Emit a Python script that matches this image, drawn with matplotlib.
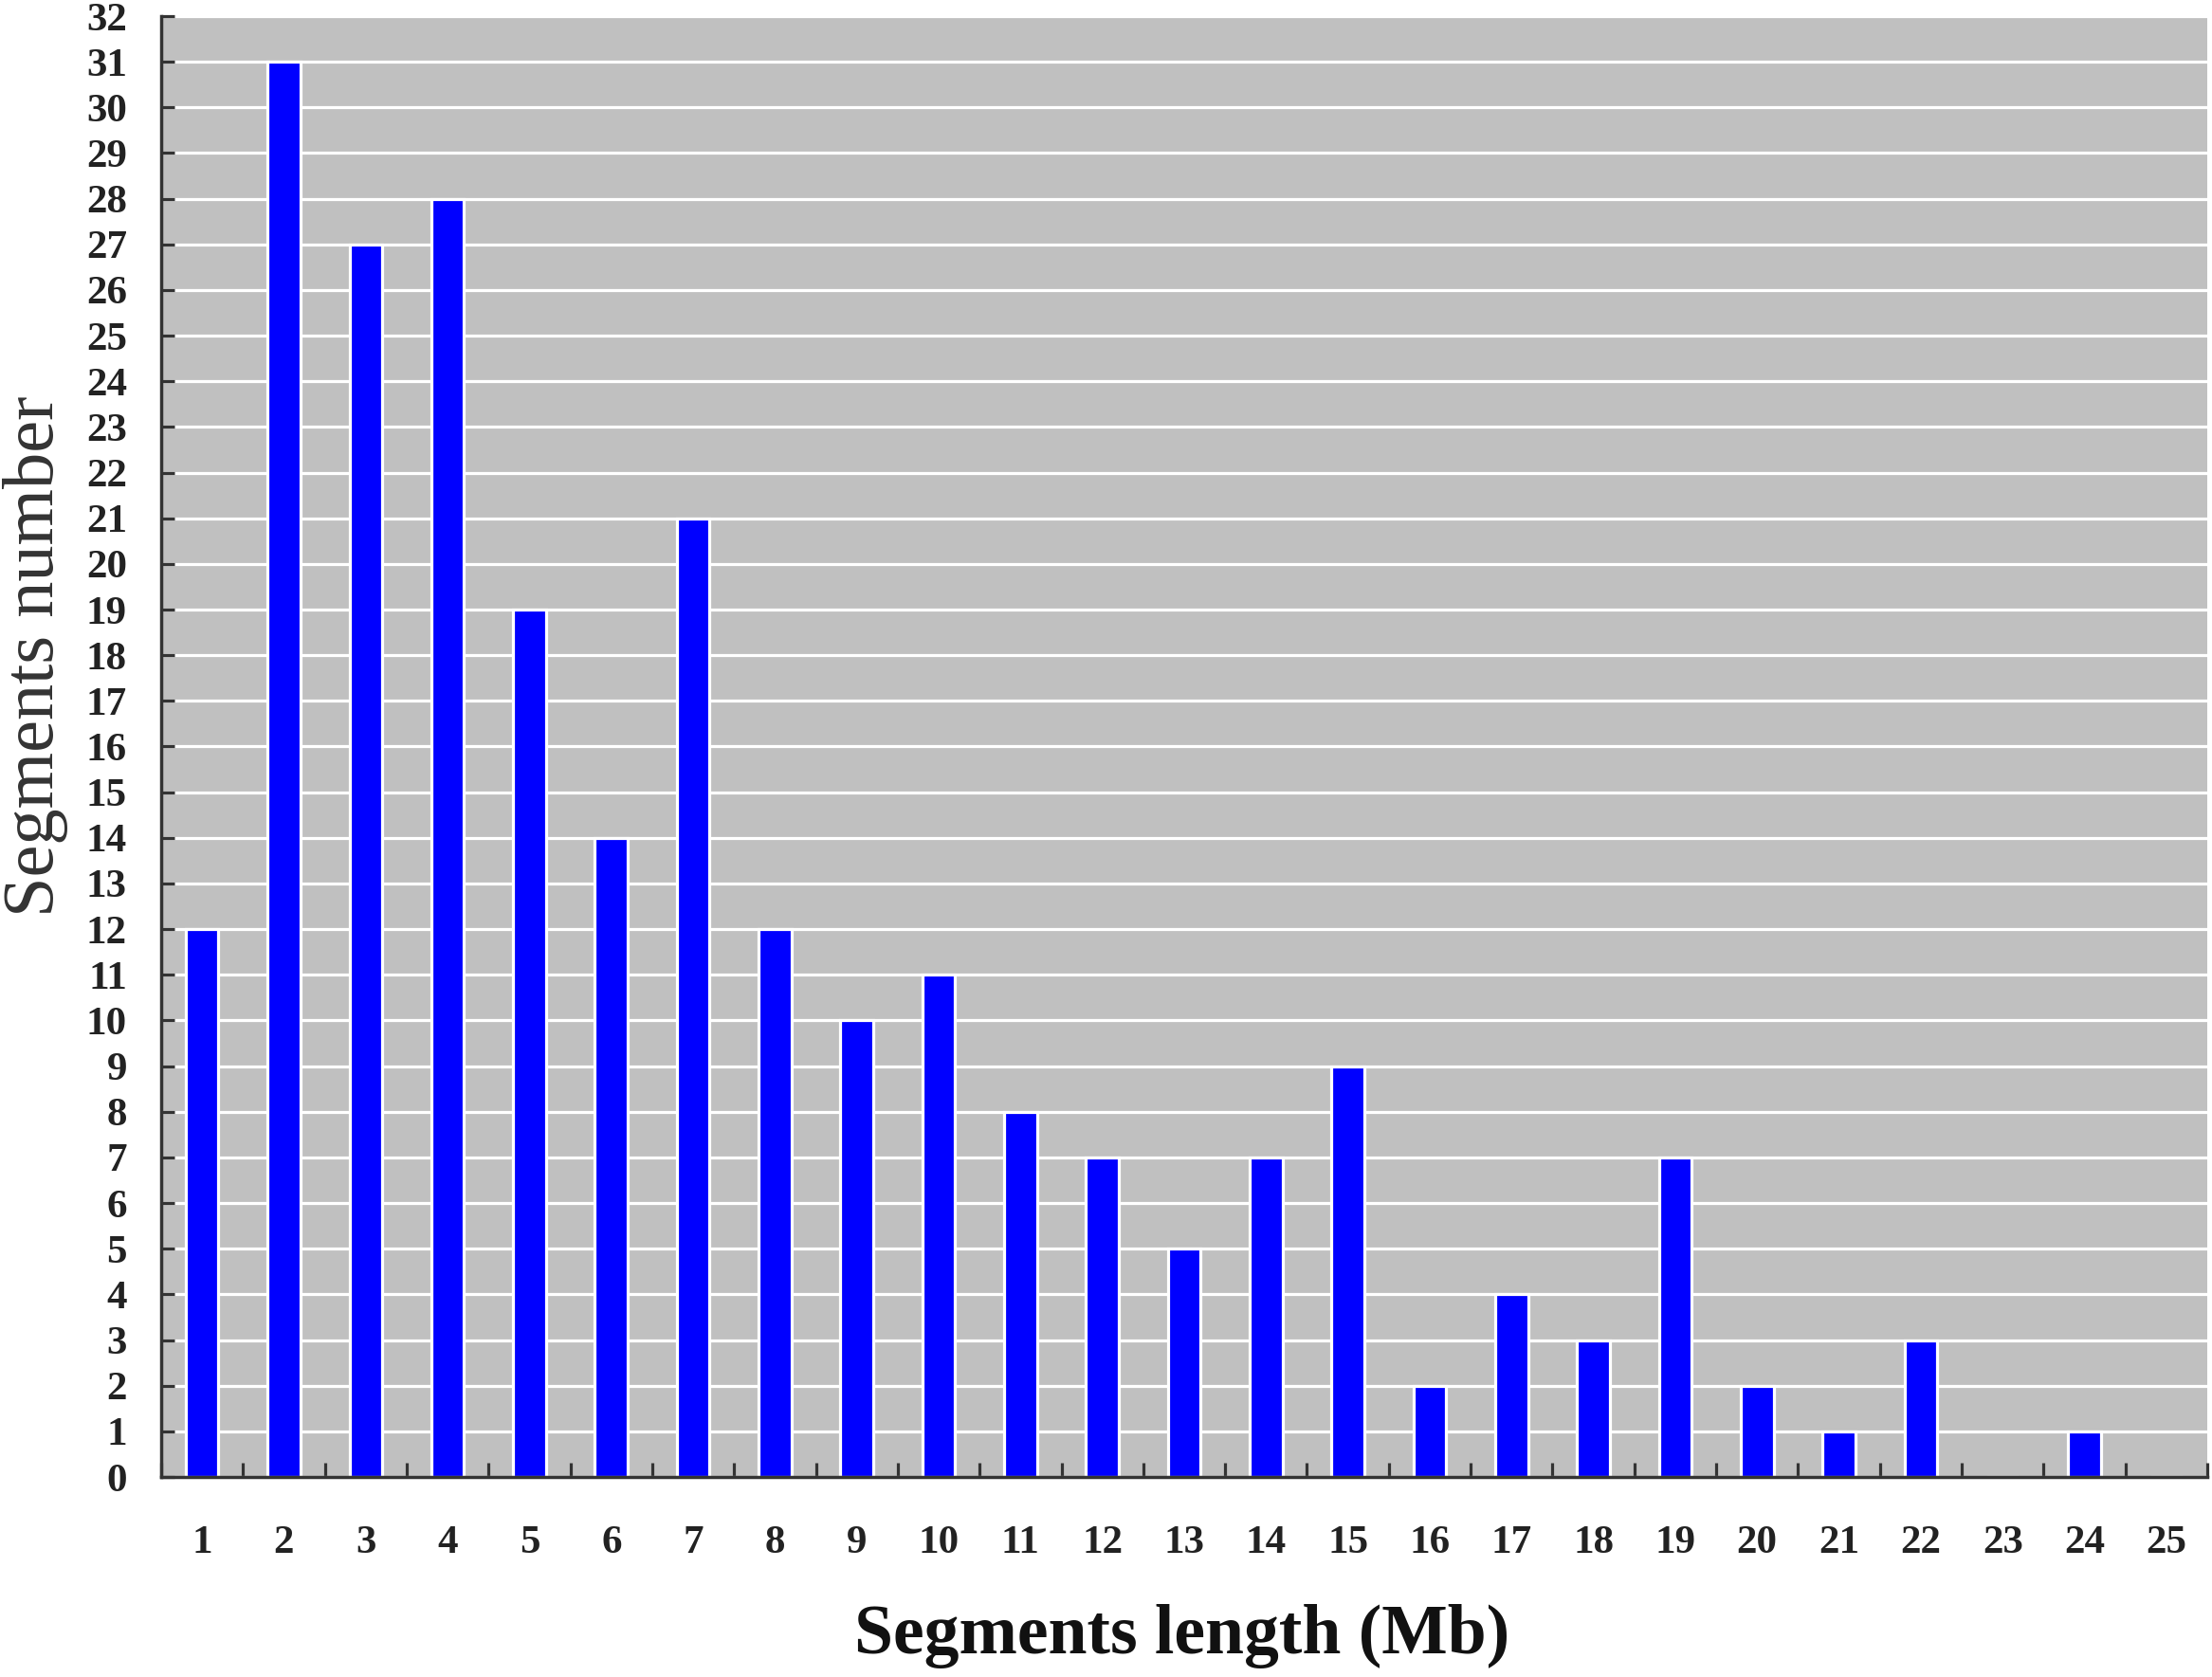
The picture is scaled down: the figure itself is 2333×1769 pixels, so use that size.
import matplotlib
matplotlib.use("Agg")
import matplotlib.pyplot as plt
import numpy as np
from matplotlib.ticker import FixedLocator

categories = [str(i) for i in range(1, 26)]
counts = [12, 31, 27, 28, 19, 14, 21, 12, 10, 11, 8, 7, 5, 7, 9, 2, 4, 3, 7, 2, 1, 3, 0, 1, 0]
y_ticks = list(range(0, 33))

W, H = 2333, 1769
fig = plt.figure(figsize=(W / 100, H / 100), dpi=100)
ax = fig.add_axes([170 / W, 1 - 1558 / H, (2328 - 170) / W, (1558 - 17) / H])

ax.set_facecolor("#C0C0C0")
x = np.arange(len(categories))
ax.set_axisbelow(True)
ax.yaxis.grid(True, color="white", linewidth=2.3)
ax.bar(x, counts, width=0.4, color="#0000FF", edgecolor="white", linewidth=2.3, zorder=3)

ax.set_xlim(-0.5, len(categories) - 0.5)
ax.set_ylim(0, 32)

ax.set_xticks(x)
ax.set_xticklabels(categories)
ax.xaxis.set_minor_locator(FixedLocator(np.arange(-0.5, len(categories), 1.0)))
ax.tick_params(axis="x", which="major", length=0, pad=37)
ax.tick_params(axis="x", which="minor", direction="in", length=11, width=2.3, color="#333333")
ax.set_yticks(y_ticks)
ax.tick_params(axis="y", which="major", direction="in", length=10, width=2.3, color="#333333", pad=26)

for lab in ax.get_xticklabels() + ax.get_yticklabels():
    lab.set_fontfamily("Liberation Serif")
    lab.set_fontweight("bold")
    lab.set_fontsize(31)
    lab.set_color("#222222")

for s in ["top", "right"]:
    ax.spines[s].set_visible(False)
for s in ["left", "bottom"]:
    ax.spines[s].set_color("#333333")
    ax.spines[s].set_linewidth(2.5)
    ax.spines[s].set_zorder(4)

fig.text(1247 / W, 1 - 1726 / H, "Segments length (Mb)", ha="center", va="center",
         fontfamily="Liberation Serif", fontweight="bold", fontsize=53, color="#111111")
fig.text(38 / W, 1 - 692 / H, "Segments number", ha="center", va="center", rotation=90,
         fontfamily="Liberation Serif", fontsize=55, color="#333333")

fig.savefig("out.png", dpi=100, facecolor="white")
